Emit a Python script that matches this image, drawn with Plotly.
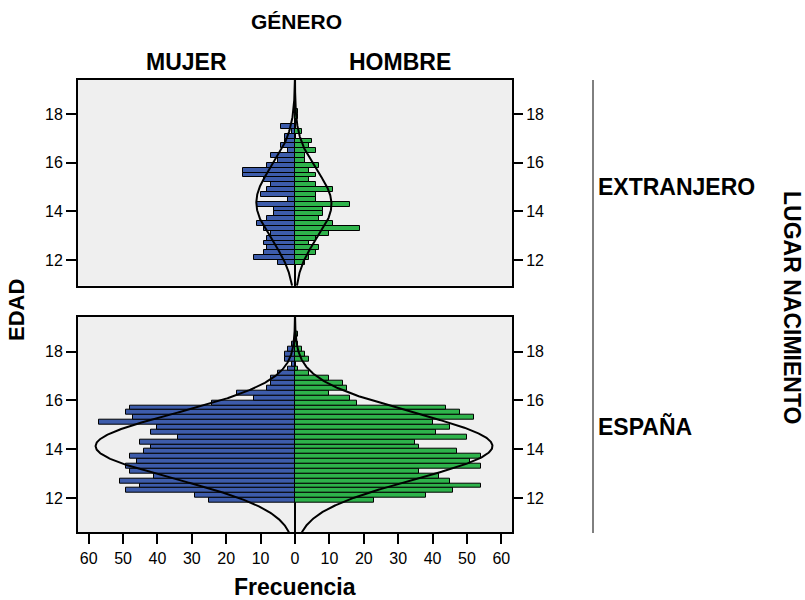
import numpy as np
import plotly.graph_objects as go

# Age bins (bin centres, width 0.2 years)
ages = [11.9, 12.1, 12.3, 12.5, 12.7, 12.9, 13.1, 13.3, 13.5, 13.7, 13.9,
        14.1, 14.3, 14.5, 14.7, 14.9, 15.1, 15.3, 15.5, 15.7, 15.9,
        16.1, 16.3, 16.5, 16.7, 16.9, 17.1, 17.3, 17.5, 17.7, 17.9,
        18.1, 18.3, 18.5, 18.7]
BIN = 0.2

# Frequencies per bin, born in Spain
mujer_espana = [25, 29, 49, 45, 51, 41, 48, 49, 46, 48, 44,
                42, 45, 34, 42, 40, 57, 47, 49, 48, 24,
                12, 17, 8, 7, 7, 5, 2, 1, 3, 3,
                2, 1, 0, 0]
hombre_espana = [23, 38, 46, 54, 45, 42, 36, 54, 51, 54, 47,
                 36, 35, 50, 41, 45, 40, 52, 48, 44, 18,
                 16, 10, 15, 14, 10, 4, 1, 0, 4, 3,
                 2, 1, 0, 1]

# Frequencies per bin, born abroad
mujer_extranjero = [5, 12, 9, 8, 9, 8, 7, 9, 11, 8, 6,
                    6, 11, 2, 10, 8, 7, 9, 15, 15, 8,
                    5, 7, 2, 4, 3, 3, 1, 4, 0, 0,
                    0, 0, 0, 0]
hombre_extranjero = [3, 4, 6, 7, 4, 6, 10, 19, 11, 7, 8,
                     8, 16, 6, 6, 11, 6, 4, 6, 4, 7,
                     3, 3, 6, 4, 5, 0, 2, 0, 0, 1,
                     1, 0, 0, 0]

freq_ticks = [-60, -50, -40, -30, -20, -10, 0, 10, 20, 30, 40, 50, 60]
age_ticks = [12, 14, 16, 18]

BLUE = "#3d5cab"
GREEN = "#2eb34b"
FONT = "Liberation Sans, Arial, sans-serif"

W, H = 805, 600


def px(xp):
    return xp / W


def py(yp):
    return 1 - yp / H


X_RANGE = [-63.1, 63.1]
Y_RANGE_TOP = [10.94, 19.41]
Y_RANGE_BOT = [10.59, 19.43]


def normal_curve(values, y_range):
    a = np.array(ages)
    n = np.array(values, dtype=float)
    total = n.sum()
    mu = (a * n).sum() / total
    sd = np.sqrt((n * (a - mu) ** 2).sum() / (total - 1))
    yy = np.linspace(y_range[0], y_range[1], 500)
    dens = total * BIN / (sd * np.sqrt(2 * np.pi)) * np.exp(-0.5 * ((yy - mu) / sd) ** 2)
    return yy, dens


fig = go.Figure()

panels = [
    ("x", "y", Y_RANGE_BOT, mujer_espana, hombre_espana),
    ("x2", "y2", Y_RANGE_TOP, mujer_extranjero, hombre_extranjero),
]

for xa, ya, yr, muj, hom in panels:
    fig.add_trace(go.Bar(
        y=ages, x=[-v for v in muj], base=0, orientation="h", width=BIN,
        marker=dict(color=BLUE, line=dict(color="black", width=1)),
        xaxis=xa, yaxis=ya, showlegend=False, name="MUJER"))
    fig.add_trace(go.Bar(
        y=ages, x=hom, base=0, orientation="h", width=BIN,
        marker=dict(color=GREEN, line=dict(color="black", width=1)),
        xaxis=xa, yaxis=ya, showlegend=False, name="HOMBRE"))
    for vals, sign in ((muj, -1), (hom, 1)):
        yy, dens = normal_curve(vals, yr)
        fig.add_trace(go.Scatter(
            x=sign * dens, y=yy, mode="lines",
            line=dict(color="black", width=2),
            xaxis=xa, yaxis=ya, showlegend=False, hoverinfo="skip"))

# placeholders so the right-hand age axes are drawn
for ya, xa in (("y3", "x"), ("y4", "x2")):
    fig.add_trace(go.Scatter(x=[0], y=[15], mode="markers",
                             marker=dict(opacity=0), xaxis=xa, yaxis=ya,
                             showlegend=False, hoverinfo="skip"))

x_dom = [px(78), px(512)]
bot_dom = [py(532.3), py(316.7)]
top_dom = [py(285.7), py(80)]

tickfont = dict(family=FONT, size=16, color="black")
frame = dict(showline=True, linecolor="black", linewidth=2, mirror=True,
             showgrid=False)

fig.update_layout(
    width=W, height=H,
    margin=dict(l=0, r=0, t=0, b=0),
    paper_bgcolor="white", plot_bgcolor="#efefef",
    barmode="overlay", bargap=0,
    xaxis=dict(domain=x_dom, anchor="y", range=X_RANGE,
               tickvals=freq_ticks, ticktext=[str(abs(v)) for v in freq_ticks],
               ticks="outside", ticklen=10, tickwidth=1.5, tickcolor="black",
               tickfont=tickfont, zeroline=True, zerolinecolor="black",
               zerolinewidth=2, **frame),
    yaxis=dict(domain=bot_dom, anchor="x", range=Y_RANGE_BOT,
               tickvals=age_ticks, ticks="outside", ticklen=10, tickwidth=1.5,
               tickcolor="black", tickfont=tickfont, zeroline=False, **frame),
    yaxis3=dict(overlaying="y", side="right", anchor="x", range=Y_RANGE_BOT,
                tickvals=age_ticks, ticks="outside", ticklen=10, tickwidth=1.5,
                tickcolor="black", tickfont=tickfont, showgrid=False,
                zeroline=False, showline=False),
    xaxis2=dict(domain=x_dom, anchor="y2", range=X_RANGE, showticklabels=False,
                ticks="", zeroline=True, zerolinecolor="black",
                zerolinewidth=2, **frame),
    yaxis2=dict(domain=top_dom, anchor="x2", range=Y_RANGE_TOP,
                tickvals=age_ticks, ticks="outside", ticklen=10, tickwidth=1.5,
                tickcolor="black", tickfont=tickfont, zeroline=False, **frame),
    yaxis4=dict(overlaying="y2", side="right", anchor="x2", range=Y_RANGE_TOP,
                tickvals=age_ticks, ticks="outside", ticklen=10, tickwidth=1.5,
                tickcolor="black", tickfont=tickfont, showgrid=False,
                zeroline=False, showline=False),
)


def label(text, x, y, xanchor="center", angle=0, size=23):
    fig.add_annotation(text="<b>%s</b>" % text, x=px(x), y=py(y),
                       xref="paper", yref="paper", showarrow=False,
                       xanchor=xanchor, yanchor="middle", textangle=angle,
                       font=dict(family=FONT, size=size, color="black"))


label("GÉNERO", 296, 22, size=21)
label("MUJER", 186, 62)
label("HOMBRE", 400, 62)
label("Frecuencia", 295, 587)
label("EDAD", 16, 310, angle=-90, size=22)
label("EXTRANJERO", 596, 187, xanchor="left")
label("ESPAÑA", 596, 426, xanchor="left")
label("LUGAR NACIMIENTO", 792, 307, angle=90, size=23)

fig.add_shape(type="line", xref="paper", yref="paper",
              x0=px(593), x1=px(593), y0=py(80), y1=py(533),
              line=dict(color="black", width=1))

fig.write_html("out.html")
